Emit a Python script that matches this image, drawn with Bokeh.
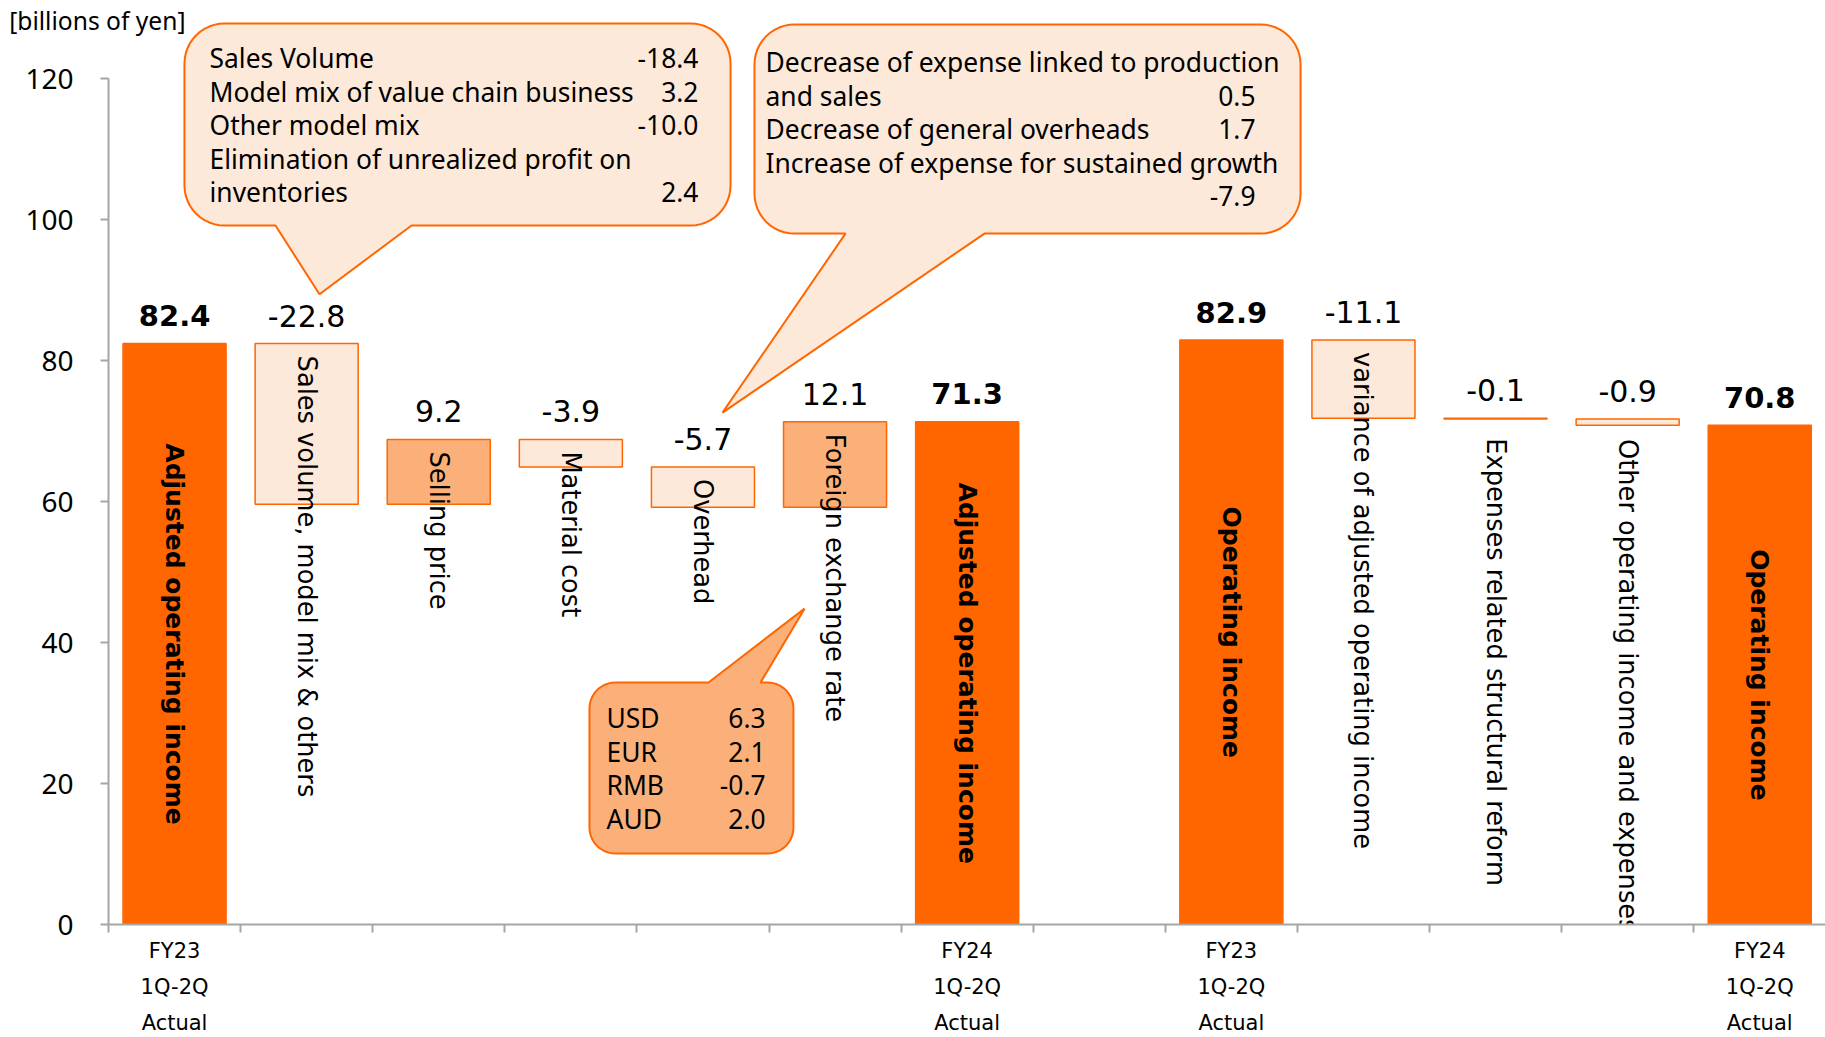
import math
from bokeh.plotting import figure
from bokeh.models import Range1d, FixedTicker, ColumnDataSource, LinearAxis
from bokeh.core.properties import value
from bokeh.embed import file_html
from bokeh.resources import INLINE

# ---------------- data ----------------
bar_labels = [
    "Adjusted operating income",
    "Sales volume, model mix & others",
    "Selling price",
    "Material cost",
    "Overhead",
    "Foreign exchange rate",
    "Adjusted operating income",
    "",
    "Operating income",
    "variance of adjusted operating income",
    "Expenses related structural reform",
    "Other operating income and expenses",
    "Operating income",
]
bar_kinds = ["total", "delta", "delta", "delta", "delta", "delta", "total",
             "gap", "total", "delta", "delta", "delta", "total"]
bar_values = [82.4, -22.8, 9.2, -3.9, -5.7, 12.1, 71.3,
              None, 82.9, -11.1, -0.1, -0.9, 70.8]
period_labels = ["FY23\n1Q-2Q\nActual", "", "", "", "", "", "FY24\n1Q-2Q\nActual",
                 "", "FY23\n1Q-2Q\nActual", "", "", "", "FY24\n1Q-2Q\nActual"]
y_ticks = [0, 20, 40, 60, 80, 100, 120]
unit_label = "[billions of yen]"

volume_items = ["Sales Volume", "Model mix of value chain business", "Other model mix",
                "Elimination of unrealized profit on", "inventories"]
volume_values = ["-18.4", "3.2", "-10.0", "", "2.4"]
overhead_items = ["Decrease of expense linked to production", "and sales",
                  "Decrease of general overheads", "Increase of expense for sustained growth", ""]
overhead_values = ["", "0.5", "1.7", "", "-7.9"]
fx_items = ["USD", "EUR", "RMB", "AUD"]
fx_values = ["6.3", "2.1", "-0.7", "2.0"]

# ---------------- style / geometry ----------------
DARK = "#FF6600"
LIGHT = "#FDE9D9"
MED = "#FBB07A"
AXIS = "#A6A6A6"
W, H = 1825, 1037
BORDER_L, BORDER_B = 108, 113
FRAME_W, FRAME_H = W - BORDER_L, H - BORDER_B
PX_X = 132.1   # pixels per category
PX_Y = 7.05    # pixels per unit
X0 = 0.5
x_end = X0 + FRAME_W / PX_X
y_end = FRAME_H / PX_Y

p = figure(width=W, height=H, x_range=Range1d(X0, x_end), y_range=Range1d(0, y_end),
           output_backend="svg", toolbar_location=None,
           min_border_left=BORDER_L, min_border_right=0, min_border_top=0,
           min_border_bottom=BORDER_B)
p.xgrid.visible = False
p.ygrid.visible = False
p.outline_line_color = None
p.background_fill_color = "white"
p.border_fill_color = "white"

# ---------------- waterfall geometry ----------------
xs, bottoms, tops, fills = [], [], [], []
running = 0.0
tot_x, tot_top, tot_txt, tot_lbl, tot_mid = [], [], [], [], []
del_x, del_top, del_txt, del_lbl, del_off = [], [], [], [], []
for i, (kind, v, lab) in enumerate(zip(bar_kinds, bar_values, bar_labels)):
    x = i + 1
    if kind == "gap":
        continue
    if kind == "total":
        b, t = 0.0, v
        running = v
        fills.append(DARK)
        tot_x.append(x); tot_top.append(t); tot_txt.append(f"{v:.1f}")
        tot_lbl.append(lab); tot_mid.append(t / 2)
    else:
        b, t = running, running + v
        running = running + v
        fills.append(MED if v > 0 else LIGHT)
        del_x.append(x); del_top.append(max(b, t)); del_txt.append(f"{v:.1f}")
        del_lbl.append(lab); del_off.append(12 if abs(v) >= 2 else 20)
    xs.append(x); bottoms.append(min(b, t)); tops.append(max(b, t))

p.vbar(x=xs, bottom=bottoms, top=tops, width=0.78, fill_color=fills,
       line_color=DARK, line_width=1.5)

# value labels
p.text(x=tot_x, y=tot_top, text=tot_txt, text_align="center", text_baseline="alphabetic",
       y_offset=-28, text_font=value("DejaVu Sans"), text_font_style="bold",
       text_font_size="29px", text_color="black")
p.text(x=del_x, y=del_top, text=del_txt, text_align="center", text_baseline="alphabetic",
       y_offset=-28, text_font=value("DejaVu Sans"), text_font_size="30px",
       text_color="black")

# rotated bar labels
p.text(x=tot_x, y=tot_mid, text=tot_lbl, angle=-math.pi / 2, text_align="center",
       text_baseline="middle", text_font=value("DejaVu Sans"), text_font_style="bold",
       text_font_size="25px", text_color="black")
src = ColumnDataSource(dict(x=del_x, y=del_top, t=del_lbl, off=del_off))
p.text(x="x", y="y", text="t", y_offset="off", source=src, angle=-math.pi / 2,
       text_align="left", text_baseline="middle", text_font=value("DejaVu Sans"),
       text_font_size="25.7px", text_color="black")


# ---------------- callouts ----------------
def callout(x0, x1, y0, y1, r_px, edge, a, b, tip):
    rx, ry = r_px / PX_X, r_px / PX_Y
    px, py = [], []

    def arc(cx, cy, a0, a1):
        for k in range(13):
            t = math.radians(a0 + (a1 - a0) * k / 12)
            px.append(cx + rx * math.cos(t)); py.append(cy + ry * math.sin(t))

    arc(x0 + rx, y0 + ry, 180, 270)
    if edge == "bottom":
        px.extend([a, tip[0], b]); py.extend([y0, tip[1], y0])
    arc(x1 - rx, y0 + ry, 270, 360)
    arc(x1 - rx, y1 - ry, 0, 90)
    if edge == "top":
        px.extend([b, tip[0], a]); py.extend([y1, tip[1], y1])
    arc(x0 + rx, y1 - ry, 90, 180)
    return px, py


boxes = [
    dict(x0=1.075, x1=5.209, y0=99.15, y1=127.8, r=40, edge="bottom",
         a=1.764, b=2.794, tip=(2.097, 89.4), fill=LIGHT),
    dict(x0=5.390, x1=9.524, y0=98.0, y1=127.66, r=40, edge="bottom",
         a=6.079, b=7.131, tip=(5.148, 72.6), fill=LIGHT),
    dict(x0=4.141, x1=5.685, y0=10.07, y1=34.33, r=26, edge="top",
         a=5.042, b=5.436, tip=(5.769, 44.8), fill=MED),
]
for bx in boxes:
    cx, cy = callout(bx["x0"], bx["x1"], bx["y0"], bx["y1"], bx["r"], bx["edge"],
                     bx["a"], bx["b"], bx["tip"])
    p.patch(cx, cy, fill_color=bx["fill"], line_color=DARK, line_width=2)


def rows(items, vals, xl, xr, ytop, step):
    ys = [ytop - k * step for k in range(len(items))]
    p.text(x=[xl] * len(items), y=ys, text=items, text_align="left", text_baseline="middle",
           text_font=value("Noto Sans"), text_font_size="26.4px", text_color="black")
    p.text(x=[xr] * len(vals), y=ys, text=vals, text_align="right", text_baseline="middle",
           text_font=value("Noto Sans"), text_font_size="26.4px", text_color="black")


rows(volume_items, volume_values, 1.265, 4.966, 122.9, 4.75)
rows(overhead_items, overhead_values, 5.474, 9.183, 122.3, 4.75)
rows(fx_items, fx_values, 4.270, 5.474, 29.3, 4.77)

# ---------------- axes ----------------
ya = p.yaxis[0]
ya.ticker = FixedTicker(ticks=y_ticks)
ya.bounds = (0, 120)
ya.axis_line_color = AXIS
ya.axis_line_width = 2
ya.major_tick_line_color = AXIS
ya.major_tick_line_width = 2
ya.major_tick_out = 8
ya.major_tick_in = 0
ya.minor_tick_line_color = None
ya.major_label_text_font = "Noto Sans"
ya.major_label_text_font_size = "28px"
ya.major_label_text_color = "black"
ya.major_label_standoff = 27

# unit caption as the single label of an outer, line-less axis
unit_y = 128.2
ua = LinearAxis(ticker=FixedTicker(ticks=[unit_y]),
                major_label_overrides={unit_y: unit_label})
ua.axis_line_color = None
ua.major_tick_line_color = None
ua.minor_tick_line_color = None
ua.major_tick_out = 0
ua.major_tick_in = 0
ua.major_label_text_font = "Noto Sans"
ua.major_label_text_font_size = "24.6px"
ua.major_label_text_color = "black"
ua.major_label_standoff = -163
p.add_layout(ua, "left")

xa = p.xaxis[0]
centers = [i + 1 for i, s in enumerate(period_labels) if s]
xa.ticker = FixedTicker(ticks=centers,
                        minor_ticks=[i + 0.5 for i in range(len(period_labels) + 1)])
xa.major_label_overrides = {i + 1: s for i, s in enumerate(period_labels) if s}
xa.axis_line_color = AXIS
xa.axis_line_width = 2
xa.major_tick_out = 0
xa.major_tick_in = 0
xa.major_tick_line_color = None
xa.minor_tick_out = 8
xa.minor_tick_in = 0
xa.minor_tick_line_color = AXIS
xa.minor_tick_line_width = 2
xa.major_label_text_font = "DejaVu Sans"
xa.major_label_text_font_size = "21px"
xa.major_label_text_color = "black"
xa.major_label_text_line_height = 1.5
xa.major_label_standoff = 6

open("out.html", "w").write(file_html(p, INLINE))
